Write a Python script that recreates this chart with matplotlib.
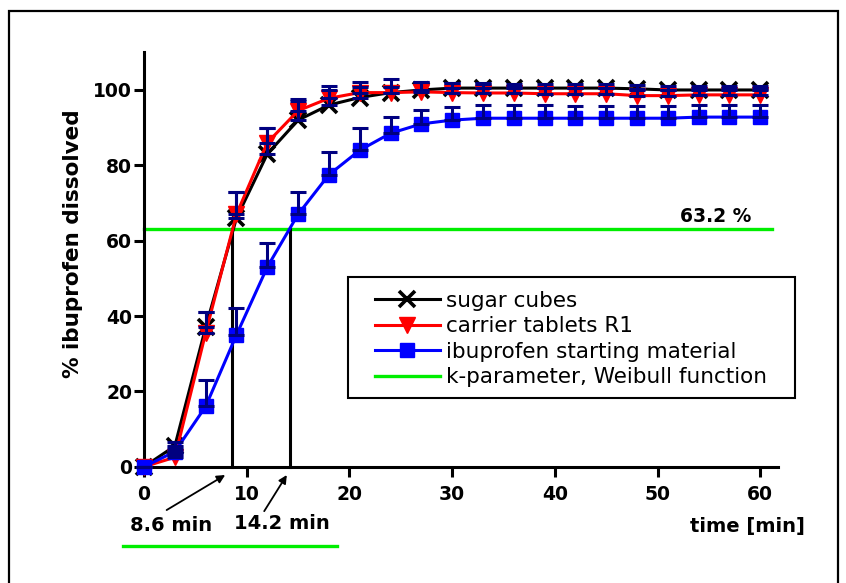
import numpy as np
import matplotlib.pyplot as plt
from matplotlib.lines import Line2D
from matplotlib.patches import Rectangle

# dissolution data
time_min = [0, 3, 6, 9, 12, 15, 18, 21, 24, 27, 30, 33, 36, 39, 42, 45, 48, 51, 54, 57, 60]
sugar = [0, 5.5, 37, 66, 83, 92, 96, 98, 99.3, 100, 100.5, 100.5, 100.5, 100.5, 100.5, 100.5, 100.3, 100, 100, 100, 100]
sugar_err = [0, 1, 4, 7, 7, 5, 5, 4, 3.7, 2.2, 1.3, 1.3, 1, 1, 1, 1, 1, 1, 1, 1, 1]
carrier = [0, 2.5, 35.5, 67, 86, 94.5, 97.8, 99.3, 99.3, 99.5, 99.3, 99.2, 99.2, 99, 99, 99, 98.5, 98.5, 98.7, 98.7, 98.7]
carrier_err = [0, 1, 5.5, 6, 4, 3, 2.2, 1.5, 1.5, 2.7, 2.5, 2.5, 1.5, 1.5, 1.5, 1.5, 1.5, 1.5, 1.5, 1.5, 1.5]
ibu = [0, 4, 16, 35, 53, 67, 77.5, 84, 88.5, 91, 92, 92.5, 92.5, 92.5, 92.5, 92.5, 92.5, 92.5, 92.8, 92.8, 92.8]
ibu_err = [0, 0.8, 7, 7, 6.5, 6, 6, 5.8, 4.3, 3.7, 3.5, 3.5, 3.5, 3.5, 3.3, 3.3, 3.3, 3.3, 3.2, 3.2, 3.2]

k_level = 63.2
t63_sugar = 8.6
t63_ibu = 14.2

fig = plt.figure(figsize=(8.46, 5.83), dpi=100)
ax = fig.add_axes([0.1557, 0.1736, 0.7648, 0.7367])
ax.set_xlim(-1.2, 61.8)
ax.set_ylim(-4, 110)

lw = 2.2
ax.plot(time_min, sugar, color='black', lw=lw, marker='x', ms=11, mew=2.6, zorder=3,
        label='sugar cubes')
ax.plot(time_min, carrier, color='#ff0000', lw=lw, marker='v', ms=11, zorder=4,
        label='carrier tablets R1')
ax.plot(time_min, ibu, color='#0000ff', lw=lw, marker='s', ms=10, zorder=5,
        label='ibuprofen starting material')

z = np.zeros(len(time_min))
for y, e in [(sugar, sugar_err), (carrier, carrier_err), (ibu, ibu_err)]:
    ax.errorbar(time_min, y, yerr=[z, e], fmt='none', ecolor='#000080',
                elinewidth=2.2, capsize=5.5, capthick=2.2, zorder=6)

# k-parameter line and t63 markers
ax.plot([0, 61.1], [k_level, k_level], color='#00ee00', lw=2.4, zorder=2,
        label='k-parameter, Weibull function')
ax.plot([t63_sugar, t63_sugar], [0, k_level], color='black', lw=2.2, zorder=2)
ax.plot([t63_ibu, t63_ibu], [0, k_level], color='black', lw=2.2, zorder=2)
ax.text(55.7, 65.0, '63.2 %', ha='center', va='baseline', fontsize=13.5, fontweight='bold')

# axes styling (Origin look)
for s in ['top', 'right']:
    ax.spines[s].set_visible(False)
ax.spines['left'].set_position(('data', 0))
ax.spines['bottom'].set_position(('data', 0))
ax.spines['left'].set_bounds(0, 110)
ax.spines['bottom'].set_bounds(0, 61.7)
ax.spines['left'].set_linewidth(2.2)
ax.spines['bottom'].set_linewidth(2.2)
ax.set_xticks(range(0, 61, 10))
ax.set_yticks(range(0, 101, 20))
ax.tick_params(axis='both', direction='out', length=7.5, width=2.2, labelsize=13.5)
ax.tick_params(axis='x', pad=5.5)
ax.tick_params(axis='y', pad=1)
for lab in ax.get_xticklabels() + ax.get_yticklabels():
    lab.set_fontweight('bold')

# arrows to the t63 values
arrow = dict(arrowstyle='-|>', color='black', lw=1.3, mutation_scale=12, shrinkA=0, shrinkB=0)
ax.annotate('', xy=(7.9, -2.2), xytext=(2.2, -11.5), arrowprops=arrow, annotation_clip=False)
ax.annotate('', xy=(13.9, -2.2), xytext=(11.7, -11.8), arrowprops=arrow, annotation_clip=False)
ax.text(2.6, -17.1, '8.6 min', ha='center', va='baseline', fontsize=14, fontweight='bold', clip_on=False)
ax.text(13.4, -16.5, '14.2 min', ha='center', va='baseline', fontsize=14, fontweight='bold', clip_on=False)
ax.text(64.3, -17.3, 'time [min]', ha='right', va='baseline', fontsize=14, fontweight='bold', clip_on=False)

fig.text(73 / 846, 1 - 244 / 583, '% ibuprofen dissolved', rotation=90, ha='center', va='center',
         fontsize=15.5, fontweight='bold')

fig.add_artist(Line2D([123.3 / 846, 336.7 / 846], [1 - 545.7 / 583] * 2, color='#00ee00', lw=2.4))
fig.add_artist(Rectangle((9 / 846, -0.05), 829 / 846, 1.05 - 11 / 583, transform=fig.transFigure,
                         fill=False, edgecolor='black', lw=1.6))

# legend: frame drawn separately so its size matches the original box
fig.add_artist(Rectangle((348.3 / 846, 1 - 398.3 / 583), 446.7 / 846, 121.6 / 583,
                         transform=fig.transFigure, fill=False, edgecolor='black', lw=1.5, zorder=7))
leg = ax.legend(loc='upper left', bbox_to_anchor=(375 / 846, 1 - 291 / 583),
                bbox_transform=fig.transFigure, fontsize=15.5, frameon=False,
                borderpad=0, handlelength=3.0, handletextpad=0.3, labelspacing=0.25,
                borderaxespad=0, numpoints=1)

fig.savefig('out.png', dpi=100)
